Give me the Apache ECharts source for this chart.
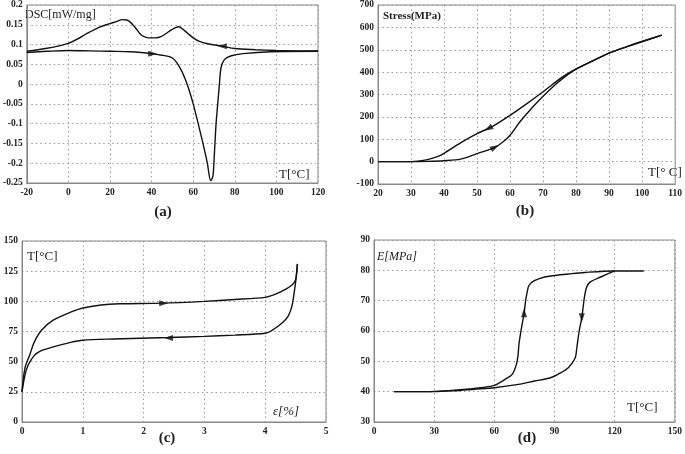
<!DOCTYPE html>
<html>
<head>
<meta charset="utf-8">
<script src="https://cdn.jsdelivr.net/npm/echarts@6/dist/echarts.min.js"></script>
<style>
  html, body { margin: 0; padding: 0; background: #fff; }
  #chart { width: 685px; height: 454px; }
</style>
</head>
<body>
<div id="chart"></div>
<script>
// (a) DSC curves
const dscHeating = [[-20,0.080],[-10,0.083],[0,0.085],[10,0.084],[20,0.083],[30,0.082],[35,0.080],[40,0.077],[45,0.073],[48,0.070],[50,0.066],[52,0.055],[54.5,0.033],[56,0.015],[57.6,-0.008],[60,-0.05],[62.4,-0.1],[64.7,-0.15],[66.8,-0.2],[68.4,-0.244],[69.5,-0.232],[70.2,-0.175],[71,-0.1],[71.8,-0.05],[72.6,0],[73.4,0.042],[75,0.062],[78,0.071],[84,0.077],[97,0.082],[120,0.083]]
const dscCooling = [[120,0.084],[110,0.084],[100,0.085],[90,0.087],[80,0.090],[74,0.096],[67,0.102],[63,0.108],[60,0.117],[57,0.130],[55,0.139],[53.2,0.145],[51.5,0.143],[49.5,0.137],[47,0.128],[44.5,0.120],[42,0.117],[38.5,0.117],[36.5,0.120],[35,0.124],[33,0.137],[31,0.150],[29.5,0.158],[28,0.162],[26,0.163],[23,0.158],[20,0.153],[15,0.144],[9,0.128],[4,0.113],[0,0.103],[-5,0.096],[-11,0.090],[-20,0.083]]
const dscArrows = [[40.5,0.077,-90],[74,0.096,90]]

// (b) stress vs temperature
const stressHeating = [[20,0],[30,0],[35,1],[40,4],[45,11],[50,36],[55.4,64],[58,90],[60,118],[63,178],[66,230],[70,292],[73,335],[76,372],[80,413],[85,450],[90,485],[95,512],[100,537],[106,565]]
const stressCooling = [[106,565],[100,537],[95,512],[90,485],[85,450],[80,415],[76,380],[73,347],[70,312],[65,258],[60,207],[55,160],[50,125],[45,84],[40,37],[38,22],[35,9],[32,2],[30,0],[20,0]]
const stressArrows = [[55.4,64,-63],[53.4,148,119]]

// (c) temperature vs strain
const strainUpper = [[0,25],[0.05,45],[0.13,56],[0.2,66],[0.32,76],[0.5,84],[0.8,91],[1,94.5],[1.3,97],[1.6,98],[2.3,98.5],[3,100],[3.5,101.5],[4,103.3],[4.15,105.5],[4.3,109],[4.45,114],[4.5,118],[4.52,125],[4.53,131]]
const strainLower = [[4.53,131],[4.51,120],[4.49,112],[4.44,96],[4.38,88],[4.3,83],[4.2,79],[4.1,75.5],[4.0,73.5],[3.5,72],[3,71],[2.4,70],[1.5,68.8],[1,67.8],[0.8,66],[0.5,62],[0.3,58.8],[0.2,55],[0.1,47],[0.05,39],[0,25]]
const strainArrows = [[2.33,98.5,-90],[2.41,69.7,90]]

// (d) modulus vs temperature
const modulusLeft = [[10,40],[20,40],[30,40.1],[40,40.5],[50,41.1],[60,42.1],[65.7,44.2],[69,45.8],[71,49],[71.8,52],[72.3,55.8],[73.6,61.3],[74.8,65.7],[75.6,70.1],[76.4,72.9],[77.2,75],[79.7,76.5],[85,77.8],[90,78.3],[97,78.8],[105,79.3],[120,79.8],[134.5,79.8]]
const modulusRight = [[10,40],[20,40],[30,40],[40,40.3],[50,40.8],[60,41.3],[72,42.4],[80,43.5],[88,44.6],[93,46.2],[97,48],[100.3,51.1],[101.1,54.4],[102.3,60],[103.6,64.4],[104.9,71.1],[106,74.4],[107.7,76.1],[113,77.8],[117,79],[120,79.8]]
const modulusArrows = [[74.8,66,0],[103.6,64.4,180]]

const serif = 'Liberation Serif'
const ink = '#111'

const chart = echarts.init(document.getElementById('chart'))

const axisBase = {
  type: 'value',
  axisLine: { show: true, onZero: false, lineStyle: { color: '#888' } },
  axisTick: { show: false },
  axisLabel: { fontFamily: serif, fontWeight: 'bold', fontSize: 9.5, color: '#222', margin: 4 },
  splitLine: { lineStyle: { type: [1.5, 3], color: '#9a9a9a' } }
}

const xAx = (i, min, max, interval) => ({ ...axisBase, gridIndex: i, min, max, interval, axisLabel: { ...axisBase.axisLabel, margin: 5 } })
const yAx = (i, min, max, interval, fmt) => ({ ...axisBase, gridIndex: i, min, max, interval, axisLabel: { ...axisBase.axisLabel, formatter: fmt } })

const curve = (i, data) => ({
  type: 'line', xAxisIndex: i, yAxisIndex: i, data, smooth: 0.3,
  showSymbol: false, lineStyle: { color: ink, width: 1.4 }, silent: true
})
const arrows = (i, pts) => ({
  type: 'scatter', xAxisIndex: i, yAxisIndex: i, silent: true,
  data: pts.map(p => ({ value: [p[0], p[1]], symbolRotate: p[2] })),
  symbol: 'triangle', symbolSize: [6, 9], itemStyle: { color: ink }
})

const txt = (x, y, text, font, align) => ({
  type: 'text', x, y,
  style: { text, font, fill: '#222', textAlign: align || 'left', textVerticalAlign: 'middle' }
})

chart.setOption({
  animation: false,
  grid: [
    { left: 22, top: 3, width: 296, height: 180, show: true, borderColor: '#888' },
    { left: 378, top: 4, width: 302, height: 180, show: true, borderColor: '#888' },
    { left: 22, top: 241, width: 304, height: 181, show: true, borderColor: '#888' },
    { left: 374, top: 240, width: 302, height: 182, show: true, borderColor: '#888' }
  ],
  xAxis: [
    xAx(0, -20, 120, 20),
    xAx(1, 20, 110, 10),
    xAx(2, 0, 5, 1),
    xAx(3, 0, 150, 30)
  ],
  yAxis: [
    yAx(0, -0.25, 0.2, 0.05, v => String(Math.round(v * 100) / 100)),
    yAx(1, -100, 700, 100),
    yAx(2, 0, 150, 25),
    yAx(3, 30, 90, 10)
  ],
  series: [
    curve(0, dscHeating), curve(0, dscCooling), arrows(0, dscArrows),
    curve(1, stressHeating), curve(1, stressCooling), arrows(1, stressArrows),
    curve(2, strainUpper), curve(2, strainLower), arrows(2, strainArrows),
    curve(3, modulusLeft), curve(3, modulusRight), arrows(3, modulusArrows)
  ],
  graphic: [
    txt(25, 15, 'DSC[mW/mg]', `12px "${serif}"`),
    txt(279, 175, 'T[°C]', `13px "${serif}"`),
    txt(383, 16, 'Stress(MPa)', `bold 11px "${serif}"`),
    txt(648, 173, 'T[° C]', `13px "${serif}"`),
    txt(27, 257, 'T[°C]', `13px "${serif}"`),
    txt(273, 412, 'ε[%]', `italic 13px "${serif}"`),
    txt(377, 257, 'E[MPa]', `italic 12px "${serif}"`),
    txt(627, 408, 'T[°C]', `13px "${serif}"`),
    txt(163, 212, '(a)', `bold 15px "${serif}"`, 'center'),
    txt(525, 211, '(b)', `bold 15px "${serif}"`, 'center'),
    txt(167, 438, '(c)', `bold 15px "${serif}"`, 'center'),
    txt(527, 438, '(d)', `bold 15px "${serif}"`, 'center')
  ]
})
</script>
</body>
</html>
